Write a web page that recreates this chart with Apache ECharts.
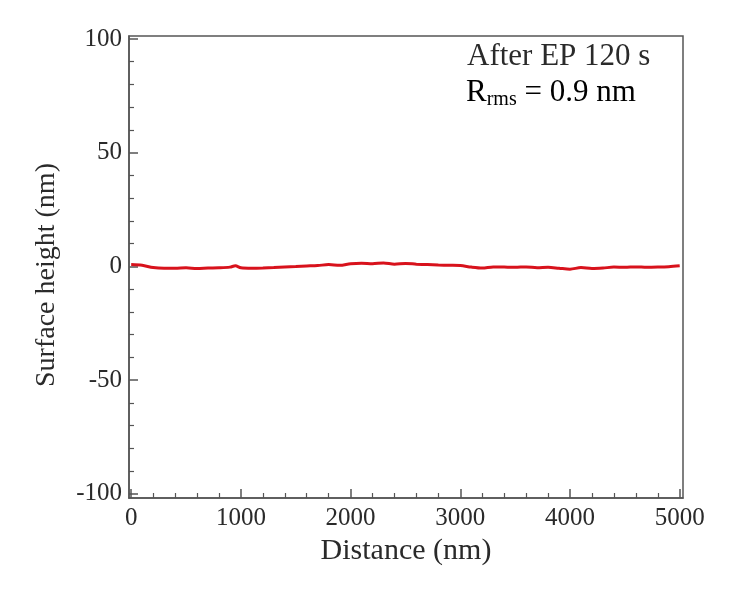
<!DOCTYPE html>
<html>
<head>
<meta charset="utf-8">
<script src="https://cdn.jsdelivr.net/npm/echarts@6/dist/echarts.min.js"></script>
<style>html,body{margin:0;padding:0;background:#fff}#c{width:734px;height:592px}</style>
</head>
<body>
<div id="c"></div>
<script>
const distance = [0,100,200,300,400,500,600,700,800,900,950,1000,1100,1200,1300,1400,1500,1600,1700,1800,1900,2000,2100,2200,2300,2400,2500,2600,2700,2800,2900,3000,3100,3200,3300,3400,3500,3600,3700,3800,3900,4000,4100,4200,4300,4400,4500,4600,4700,4800,4900,5000];
const height = [0.8,0.5,-0.5,-0.8,-0.8,-0.6,-0.9,-0.7,-0.6,-0.3,0.3,-0.6,-0.8,-0.7,-0.5,-0.2,0,0.2,0.4,0.8,0.5,1.2,1.4,1.2,1.5,1.0,1.3,1.0,0.8,0.6,0.5,0.4,-0.3,-0.7,-0.2,-0.3,-0.4,-0.2,-0.6,-0.4,-0.8,-1.2,-0.5,-0.9,-0.7,-0.3,-0.4,-0.2,-0.4,-0.3,-0.1,0.3];
const xMajor = [0,1000,2000,3000,4000,5000];
const xMinor = [200,400,600,800,1200,1400,1600,1800,2200,2400,2600,2800,3200,3400,3600,3800,4200,4400,4600,4800];
const yMajor = [-100,-50,0,50,100];
const yMinor = [-90,-80,-70,-60,-40,-30,-20,-10,10,20,30,40,60,70,80,90];

const font = 'Liberation Serif';
const axisColor = '#555';
const textColor = '#2a2a2a';
const xr = {min:-20, max:5030};
const yr = {min:-101.8, max:101.3};

const chart = echarts.init(document.getElementById('c'));
chart.setOption({
  animation:false,
  backgroundColor:'#fff',
  grid:{left:129,right:51,top:36,bottom:94,show:true,borderColor:axisColor,borderWidth:1.5},
  xAxis:[
    {type:'value',min:xr.min,max:xr.max,position:'bottom',
     name:'Distance (nm)',nameLocation:'middle',nameGap:38,
     nameTextStyle:{fontFamily:font,fontSize:30,color:textColor},
     axisLine:{show:true,onZero:false,lineStyle:{color:axisColor,width:1.5}},
     axisTick:{show:true,inside:true,length:9,customValues:xMajor,lineStyle:{color:axisColor,width:1.5}},
     axisLabel:{show:true,customValues:xMajor,formatter:v=>String(v),fontFamily:font,fontSize:25,color:textColor,margin:8},
     splitLine:{show:false}},
    {type:'value',min:xr.min,max:xr.max,position:'bottom',
     axisLine:{show:false,onZero:false},
     axisTick:{show:true,inside:true,length:5,customValues:xMinor,lineStyle:{color:axisColor,width:1.2}},
     axisLabel:{show:false},splitLine:{show:false}}
  ],
  yAxis:[
    {type:'value',min:yr.min,max:yr.max,position:'left',
     axisLine:{show:true,onZero:false,lineStyle:{color:axisColor,width:1.5}},
     axisTick:{show:true,inside:true,length:9,customValues:yMajor,lineStyle:{color:axisColor,width:1.5}},
     axisLabel:{show:true,customValues:yMajor,fontFamily:font,fontSize:25,color:textColor,margin:7},
     splitLine:{show:false}},
    {type:'value',min:yr.min,max:yr.max,position:'left',
     axisLine:{show:false,onZero:false},
     axisTick:{show:true,inside:true,length:5,customValues:yMinor,lineStyle:{color:axisColor,width:1.2}},
     axisLabel:{show:false},splitLine:{show:false}}
  ],
  series:[
    {type:'line',xAxisIndex:0,yAxisIndex:0,data:distance.map((d,i)=>[d,height[i]]),
     showSymbol:false,smooth:0.3,lineStyle:{color:'#d8121c',width:3}}
  ],
  graphic:[
    {type:'text',x:47,y:275,rotation:Math.PI/2,
     style:{text:'Surface height (nm)',fontFamily:font,fontSize:28,fill:textColor,align:'center',verticalAlign:'middle'}},
    {type:'text',left:467,top:41,style:{text:'After EP 120 s',fontFamily:font,fontSize:31,fill:textColor}},
    {type:'text',left:466,top:77,style:{
      text:'{r|R}{s|rms}{r| = 0.9 nm}',
      rich:{r:{fontFamily:font,fontSize:31,color:textColor},
            s:{fontFamily:font,fontSize:20,color:textColor,verticalAlign:'bottom',padding:[15,0,0,0]}}
    }}
  ]
});
</script>
</body>
</html>
